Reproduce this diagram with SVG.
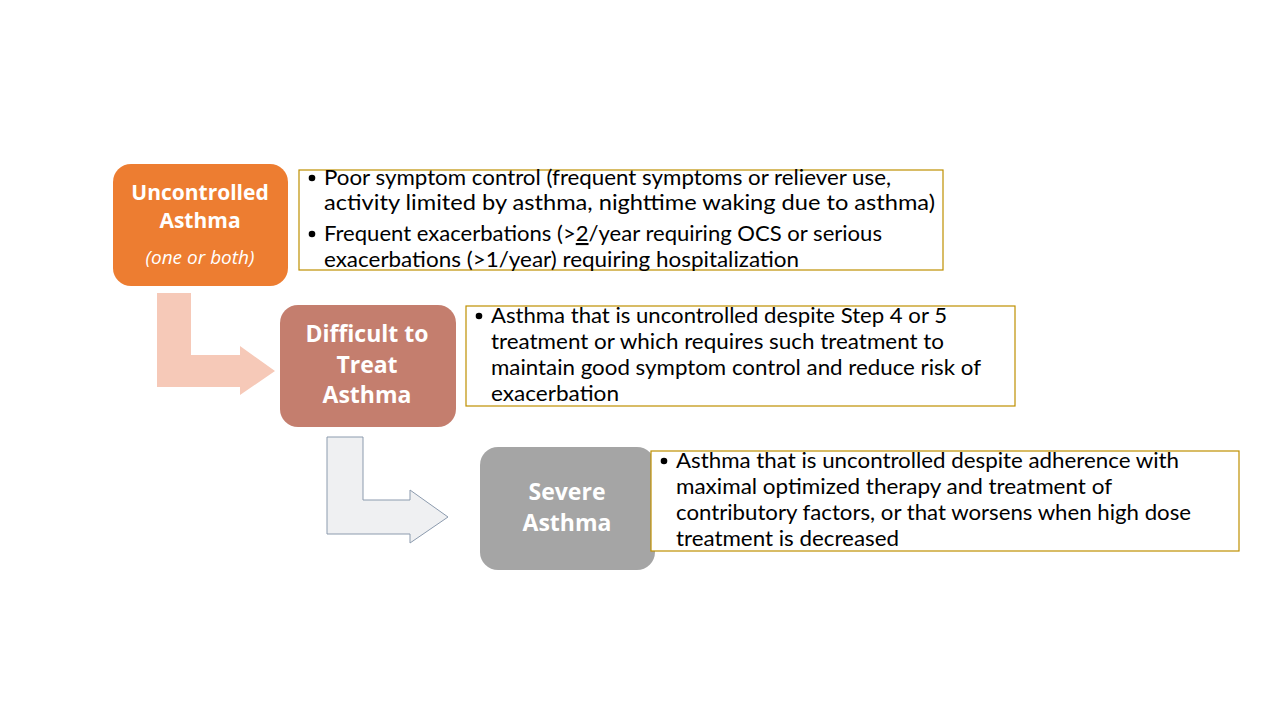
<svg xmlns="http://www.w3.org/2000/svg" width="1280" height="720" viewBox="0 0 1280 720">
<style>
.title{font-family:"Open Sans","Liberation Sans",sans-serif;font-weight:bold;fill:#ffffff;text-anchor:middle}
.body{font-family:Lato,"Liberation Sans",sans-serif;font-size:21px;fill:#000000}
.tbox{fill:#ffffff;stroke:#BF9000;stroke-width:1.2}
</style>
<rect width="1280" height="720" fill="#ffffff"/>
<g id="connectors">
<path d="M157,293 L191,293 L191,355 L240,355 L240,346 L275,371 L240,395 L240,387 L157,387 Z" fill="#F6C9B8"/>
<path d="M327,437 L363,437 L363,500 L410,500 L410,490 L448,517 L410,543 L410,534 L327,534 Z" fill="#EFF0F2" stroke="#8C9BAE" stroke-width="1"/>
</g>
<g id="node-uncontrolled">
<rect x="113" y="164" width="175" height="122" rx="18" fill="#ED7D31"/>
<text class="title" x="200" y="200" font-size="21">Uncontrolled</text>
<text class="title" x="200" y="228" font-size="21">Asthma</text>
<text x="200" y="264" font-size="19" font-style="italic" fill="#ffffff" text-anchor="middle" font-family="Open Sans, Liberation Sans, sans-serif">(one or both)</text>
</g>
<g id="desc-uncontrolled">
<rect class="tbox" x="299" y="170" width="644" height="100"/>
<circle cx="312" cy="178" r="3.3" fill="#000"/>
<text class="body" x="324" y="185" textLength="567" lengthAdjust="spacingAndGlyphs">Poor symptom control (frequent symptoms or reliever use,</text>
<text class="body" x="324" y="210" textLength="611" lengthAdjust="spacingAndGlyphs">activity limited by asthma, nighttime waking due to asthma)</text>
<circle cx="312" cy="234" r="3.3" fill="#000"/>
<text class="body" x="324" y="241" textLength="558" lengthAdjust="spacingAndGlyphs">Frequent exacerbations (&gt;<tspan text-decoration="underline">2</tspan>/year requiring OCS or serious</text>
<text class="body" x="324" y="267" textLength="475" lengthAdjust="spacingAndGlyphs">exacerbations (&gt;1/year) requiring hospitalization</text>
</g>
<g id="node-difficult">
<rect x="280" y="305" width="176" height="122" rx="18" fill="#C47E6E"/>
<text class="title" x="367" y="342" font-size="23">Difficult to</text>
<text class="title" x="367" y="373" font-size="23">Treat</text>
<text class="title" x="367" y="403" font-size="23">Asthma</text>
</g>
<g id="desc-difficult">
<rect class="tbox" x="466" y="306" width="549" height="100"/>
<circle cx="479" cy="316" r="3.3" fill="#000"/>
<text class="body" x="491" y="323" textLength="456" lengthAdjust="spacingAndGlyphs">Asthma that is uncontrolled despite Step 4 or 5</text>
<text class="body" x="491" y="349" textLength="453" lengthAdjust="spacingAndGlyphs">treatment or which requires such treatment to</text>
<text class="body" x="491" y="375" textLength="490" lengthAdjust="spacingAndGlyphs">maintain good symptom control and reduce risk of</text>
<text class="body" x="491" y="401" textLength="128" lengthAdjust="spacingAndGlyphs">exacerbation</text>
</g>
<g id="node-severe">
<rect x="480" y="447" width="175" height="123" rx="18" fill="#A5A5A5"/>
<text class="title" x="567" y="500" font-size="23">Severe</text>
<text class="title" x="567" y="531" font-size="23">Asthma</text>
</g>
<g id="desc-severe">
<rect class="tbox" x="651" y="451" width="588" height="100"/>
<circle cx="664" cy="461" r="3.3" fill="#000"/>
<text class="body" x="676" y="468" textLength="503" lengthAdjust="spacingAndGlyphs">Asthma that is uncontrolled despite adherence with</text>
<text class="body" x="676" y="494" textLength="436" lengthAdjust="spacingAndGlyphs">maximal optimized therapy and treatment of</text>
<text class="body" x="676" y="520" textLength="515" lengthAdjust="spacingAndGlyphs">contributory factors, or that worsens when high dose</text>
<text class="body" x="676" y="546" textLength="223" lengthAdjust="spacingAndGlyphs">treatment is decreased</text>
</g>
</svg>
